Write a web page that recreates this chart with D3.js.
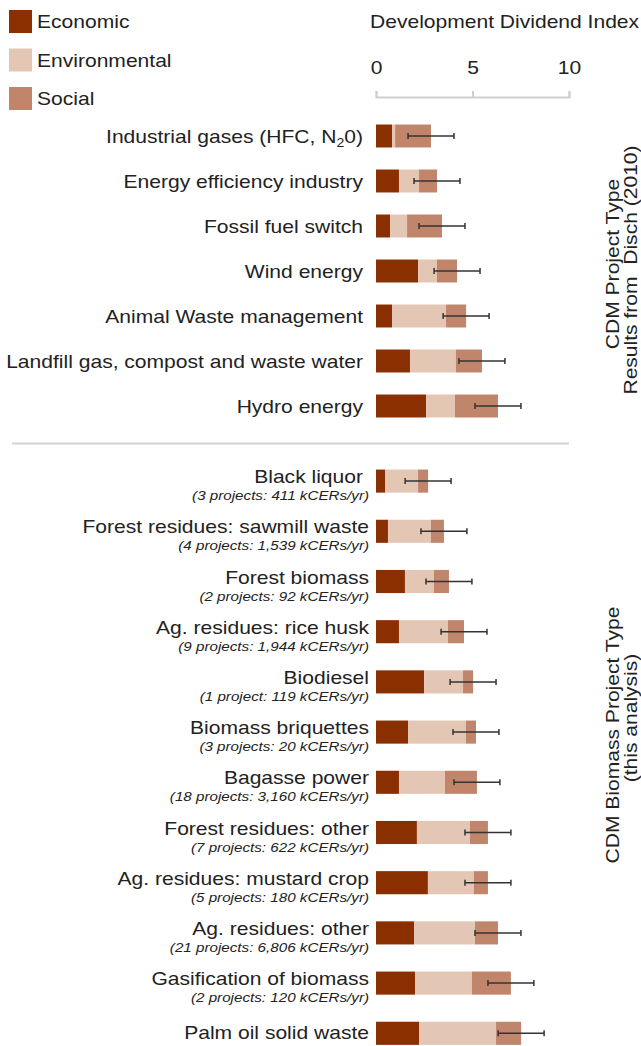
<!DOCTYPE html>
<html>
  <head>
    <meta charset="utf-8" />
    <title>Development Dividend Index by CDM project type</title>
    <script src="https://d3js.org/d3.v7.min.js"></script>
    <style>
      body {
        margin: 0;
        background: #fff;
        font-family: "Liberation Sans", Arial, sans-serif;
      }
      text {
        fill: #222;
      }
      .axis path,
      .axis line {
        stroke: #cfcfcf;
        stroke-width: 2;
      }
      .axis text {
        font-size: 18px;
        fill: #222;
      }
    </style>
  </head>
  <body>
    <svg id="chart" width="641" height="1046"></svg>

    <script>
      // Legend / segment names and colours
      const components = ['Economic', 'Environmental', 'Social'];
      const colors = ['#8a2f00', '#e3c6b4', '#c0856a'];

      // Top panel: results from Disch (2010)
      const topNames = [
        'Industrial gases (HFC, N20)',
        'Energy efficiency industry',
        'Fossil fuel switch',
        'Wind energy',
        'Animal Waste management',
        'Landfill gas, compost and waste water',
        'Hydro energy'
      ];
      const topEconomic = [0.83, 1.19, 0.73, 2.18, 0.83, 1.76, 2.59];
      const topEnvironmental = [0.16, 1.04, 0.88, 0.98, 2.80, 2.38, 1.50];
      const topSocial = [1.86, 0.93, 1.81, 1.04, 1.04, 1.35, 2.23];
      const topError = [1.19, 1.19, 1.19, 1.19, 1.19, 1.19, 1.19];

      // Bottom panel: biomass project types (this analysis)
      const bottomNames = [
        'Black liquor',
        'Forest residues: sawmill waste',
        'Forest biomass',
        'Ag. residues: rice husk',
        'Biodiesel',
        'Biomass briquettes',
        'Bagasse power',
        'Forest residues: other',
        'Ag. residues: mustard crop',
        'Ag. residues: other',
        'Gasification of biomass',
        'Palm oil solid waste'
      ];
      const bottomNotes = [
        '(3 projects: 411 kCERs/yr)',
        '(4 projects: 1,539 kCERs/yr)',
        '(2 projects: 92 kCERs/yr)',
        '(9 projects: 1,944 kCERs/yr)',
        '(1 project: 119 kCERs/yr)',
        '(3 projects: 20 kCERs/yr)',
        '(18 projects: 3,160 kCERs/yr)',
        '(7 projects: 622 kCERs/yr)',
        '(5 projects: 180 kCERs/yr)',
        '(21 projects: 6,806 kCERs/yr)',
        '(2 projects: 120 kCERs/yr)',
        ''
      ];
      const bottomEconomic = [0.47, 0.62, 1.50, 1.19, 2.49, 1.66, 1.19, 2.12, 2.69, 1.97, 2.02, 2.23];
      const bottomEnvironmental = [1.71, 2.23, 1.50, 2.54, 2.02, 3.00, 2.38, 2.75, 2.38, 3.16, 2.95, 3.99];
      const bottomSocial = [0.52, 0.67, 0.78, 0.83, 0.52, 0.52, 1.66, 0.93, 0.73, 1.19, 2.02, 1.30];
      const bottomError = [1.19, 1.19, 1.19, 1.19, 1.19, 1.19, 1.19, 1.19, 1.19, 1.19, 1.19, 1.19];

      const axisTicks = [0, 5, 10];

      // the original font runs wider than Liberation Sans
      const SX = 1.17;

      const svg = d3.select('#chart');

      const x = d3.scaleLinear().domain([0, 10]).range([376, 569]);

      const yTop = d3.scaleBand()
        .domain(topNames)
        .range([113.5, 428.5])
        .paddingInner(0.49)
        .paddingOuter(0.245);

      const yBottom = d3.scaleBand()
        .domain(bottomNames)
        .range([456, 1058.4])
        .paddingInner(0.54)
        .paddingOuter(0.27);

      // text placed in a group that is stretched along the text
      function stext(parent, tx, ty, size) {
        return parent.append('g')
          .attr('transform', `translate(${tx}, ${ty}) scale(${SX}, 1)`)
          .append('text')
          .style('font-size', size + 'px');
      }

      // Legend
      const legend = svg.append('g');
      components.forEach((c, i) => {
        legend.append('rect')
          .attr('x', 9).attr('y', 10 + i * 38.5)
          .attr('width', 23).attr('height', 23)
          .attr('fill', colors[i]);
        stext(legend, 37, 28 + i * 38.5, 18).text(c);
      });

      // Axis on top
      stext(svg, 370, 28, 18).text('Development Dividend Index');

      const axisG = svg.append('g')
        .attr('class', 'axis')
        .attr('transform', 'translate(0, 97)')
        .call(d3.axisTop(x).tickValues(axisTicks).tickSize(6).tickPadding(17));
      axisG.selectAll('.tick text').attr('transform', `scale(${SX}, 1)`);

      // builds stacked rows from the arrays
      function makeRows(names, econ, env, soc, err) {
        return names.map((n, i) => {
          const vals = [econ[i], env[i], soc[i]];
          let acc = 0;
          const segs = vals.map((v, k) => {
            const s = { x0: acc, x1: acc + v, k: k };
            acc += v;
            return s;
          });
          return { name: n, segs: segs, total: acc, err: err[i], i: i };
        });
      }

      function drawBars(rows, y) {
        const g = svg.append('g');
        const row = g.selectAll('g.row')
          .data(rows)
          .enter().append('g')
          .attr('class', 'row')
          .attr('transform', d => `translate(0, ${y(d.name)})`);

        row.selectAll('rect')
          .data(d => d.segs)
          .enter().append('rect')
          .attr('x', d => x(d.x0))
          .attr('width', d => x(d.x1) - x(d.x0))
          .attr('height', y.bandwidth())
          .attr('fill', d => colors[d.k]);

        // error bars
        const mid = y.bandwidth() / 2;
        row.append('line')
          .attr('x1', d => x(d.total - d.err))
          .attr('x2', d => x(d.total + d.err))
          .attr('y1', mid).attr('y2', mid)
          .attr('stroke', '#333').attr('stroke-width', 1.5);
        [-1, 1].forEach(s => {
          row.append('line')
            .attr('x1', d => x(d.total + s * d.err))
            .attr('x2', d => x(d.total + s * d.err))
            .attr('y1', mid - 3).attr('y2', mid + 3)
            .attr('stroke', '#333').attr('stroke-width', 1.5);
        });
        return row;
      }

      // Top panel
      const topRows = makeRows(topNames, topEconomic, topEnvironmental, topSocial, topError);
      const topRow = drawBars(topRows, yTop);
      topRow.each(function (d) {
        const t = stext(d3.select(this), 363, yTop.bandwidth() / 2 + 7, 18)
          .attr('text-anchor', 'end');
        if (d.i === 0) {
          t.append('tspan').text('Industrial gases (HFC, N');
          t.append('tspan').attr('dy', 4).style('font-size', '12px').text('2');
          t.append('tspan').attr('dy', -4).text('0)');
        } else {
          t.text(d.name);
        }
      });

      // separator
      svg.append('line')
        .attr('x1', 12).attr('x2', 569)
        .attr('y1', 443.5).attr('y2', 443.5)
        .attr('stroke', '#d2d2d2').attr('stroke-width', 2);

      // Bottom panel
      const bottomRows = makeRows(bottomNames, bottomEconomic, bottomEnvironmental, bottomSocial, bottomError);
      const bottomRow = drawBars(bottomRows, yBottom);
      bottomRow.each(function (d) {
        const r = d3.select(this);
        const note = bottomNotes[d.i];
        const mid = yBottom.bandwidth() / 2;
        stext(r, d.i === 0 ? 363 : 369, note ? mid + 2 : mid + 6, 18)
          .attr('text-anchor', 'end')
          .text(d.name);
        if (note) {
          stext(r, 369, mid + 19, 13)
            .attr('text-anchor', 'end')
            .style('font-style', 'italic')
            .text(note);
        }
      });

      // side titles, one line each
      function sideLine(str, bx, cy) {
        svg.append('g')
          .attr('transform', `translate(${bx}, ${cy}) rotate(-90) scale(${SX}, 1)`)
          .append('text')
          .attr('text-anchor', 'middle')
          .style('font-size', '18px')
          .style('white-space', 'pre')
          .text(str);
      }
      sideLine('CDM Project Type', 619, 264);
      sideLine('Results from  Disch (2010)', 637, 270);
      sideLine('CDM Biomass Project Type', 619, 735);
      sideLine('(this analysis)', 637, 718);
    </script>
  </body>
</html>
